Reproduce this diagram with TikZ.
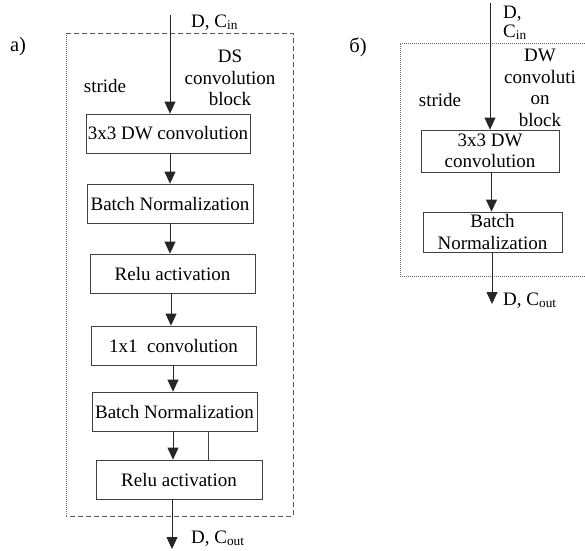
\documentclass[tikz,border=0pt]{standalone}
\usepackage{fontspec}
\setmainfont{Liberation Serif}
\usetikzlibrary{arrows.meta}
\tikzset{
  txt/.style={font=\fontsize{19}{21.5}\selectfont, inner sep=0pt},
  blk/.style={draw=black!75, line width=0.8pt, txt, minimum height=39pt, align=center},
  arr/.style={draw=black!85, line width=0.8pt, -{Triangle[length=12pt,width=11pt]}},
  ln/.style={draw=black!75, line width=0.8pt},
  dsh/.style={draw=black!65, line width=0.8pt, dash pattern=on 5pt off 3pt},
  dtt/.style={draw=black!60, line width=0.7pt, dash pattern=on 1pt off 1pt},
}
\begin{document}
\begin{tikzpicture}[x=1pt,y=-1pt]
\useasboundingbox (0,0) rectangle (585,550);
% ---- panel a ----
\node[txt, font=\fontsize{20.5}{22}\selectfont] (la) at (18,47) {a)};
\draw[dtt] (66,33) -- (66,516);
\draw[dsh] (66,33) -- (293,33) -- (293,516) -- (66,516);
\node[blk, minimum width=164pt] (b1) at (168,133.5) {3x3 DW convolution};
\node[blk, minimum width=166pt] (b2) at (170,203.5) {Batch Normalization};
\node[blk, minimum width=165pt] (b3) at (172.5,273.5) {Relu activation};
\node[blk, minimum width=165pt] (b4) at (173.5,345.5) {1x1\ \ convolution};
\node[blk, minimum width=165pt] (b5) at (174.5,411.5) {Batch Normalization};
\node[blk, minimum width=166pt] (b6) at (179,479.5) {Relu activation};
\node[txt, anchor=base west] (cin) at (191,27) {D, C\textsubscript{in}};
\node[txt, align=center] (ds) at (230,78) {DS\\convolution\\block};
\node[txt] (st1) at (105,86) {stride};
\node[txt, anchor=base west] (cout) at (191,543) {D, C\textsubscript{out}};
\coordinate (in1) at (170,15);
\coordinate (out1) at (172,549);
\draw[arr] (in1) -- (in1 |- b1.north);
\draw[arr] ([xshift=2pt]b1.south) -- ([xshift=2pt]b1.south |- b2.north);
\draw[arr] (b2.south) -- (b2.south |- b3.north);
\draw[arr] ([xshift=-1.5pt]b3.south) -- ([xshift=-1.5pt]b3.south |- b4.north);
\draw[arr] ([xshift=-0.5pt]b4.south) -- ([xshift=-0.5pt]b4.south |- b5.north);
\draw[arr] ([xshift=-1.5pt]b5.south) -- ([xshift=-1.5pt]b5.south |- b6.north);
\draw[ln] ([xshift=33.5pt]b5.south) -- ([xshift=33.5pt]b5.south |- b6.north);
\draw[arr] (out1 |- b6.south) -- (out1);
% ---- panel b ----
\node[txt, font=\fontsize{20.5}{22}\selectfont] (lb) at (358,47) {б)};
\draw[dtt] (585,43) -- (400,43) -- (400,276) -- (585,276);
\node[blk, minimum width=138pt, minimum height=42pt] (r1) at (490,151) {3x3 DW\\convolution};
\node[blk, minimum width=139pt, minimum height=40pt] (r2) at (492.5,232) {Batch\\Normalization};
\node[txt, anchor=base west] (cin2a) at (503,18) {D,};
\node[txt, anchor=base west] (cin2b) at (503,37) {C\textsubscript{in}};
\node[txt, align=center] (dw) at (540,88) {DW\\convoluti\\on\\block};
\node[txt] (st2) at (440,100) {stride};
\node[txt, anchor=base west] (cout2) at (503,305) {D, C\textsubscript{out}};
\coordinate (in2) at (490,3);
\coordinate (out2) at (492,304);
\draw[arr] (in2) -- (in2 |- r1.north);
\draw[arr] ([xshift=1.5pt]r1.south) -- ([xshift=1.5pt]r1.south |- r2.north);
\draw[arr] (out2 |- r2.south) -- (out2);
\end{tikzpicture}
\end{document}
